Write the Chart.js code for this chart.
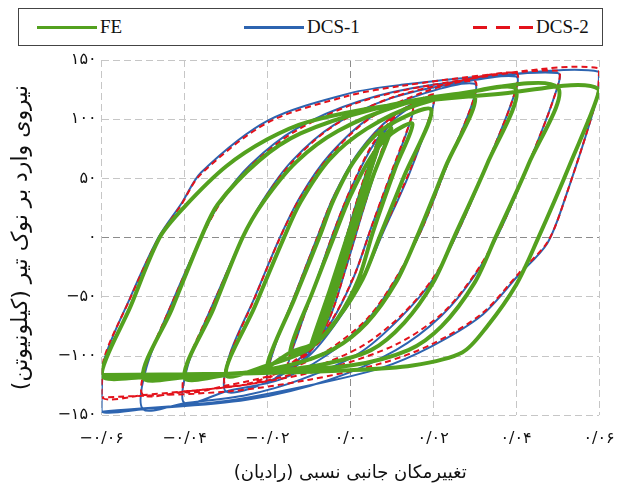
<!DOCTYPE html>
<html lang="fa">
<head>
<meta charset="utf-8">
<title>FE / DCS hysteresis</title>
<script src="https://cdn.jsdelivr.net/npm/chart.js@4.4.1/dist/chart.umd.min.js"></script>
<style>
  body { margin: 0; background: #fff; }
  #wrap { position: relative; width: 621px; height: 490px; }
  #legend {
    position: absolute; left: 18px; top: 8px; width: 583px; height: 36px;
    border: 1.5px solid #444; background: #fff;
    font-family: "Liberation Serif", serif; font-size: 19px; color: #111;
  }
  .item { position: absolute; top: 0; height: 36px; display: flex; align-items: center; }
  .swatch { width: 60px; height: 3px; margin-right: 3px; }
</style>
</head>
<body>
<div id="wrap">
  <canvas id="loopChart" width="621" height="490"></canvas>
  <div id="legend"></div>
</div>
<script>
// x = drift ratio (rad), y = tip force (kN); each loop goes from its negative corner round to its positive corner and back
const feLoops = [
  [[0, 0], [-0.0038, -45], [-0.001, -12], [0.0015, 18], [0.0038, 46], [0.001, 14], [-0.0015, -17], [-0.0038, -45]],
  [[-0.005, -58], [-0.002, -22], [0.0015, 20], [0.005, 60], [0.002, 24], [-0.0015, -20], [-0.005, -58]],
  [[-0.0085, -87], [-0.005, -50], [-0.001, -5], [0.003, 42], [0.0075, 88], [0.004, 50], [0.0, 2], [-0.004, -45], [-0.0085, -87]],
  [[-0.0088, -88], [-0.0045, -48], [0.0, 2], [0.0035, 46], [0.0078, 88], [0.0035, 42], [-0.0005, -5], [-0.005, -52], [-0.0088, -88]],
  [[-0.0095, -91], [-0.005, -45], [-0.001, -2], [0.003, 40], [0.0065, 75], [0.0099, 92], [0.0055, 52], [0.001, 5], [-0.003, -40], [-0.0065, -75], [-0.0095, -91]],
  [[-0.0145, -97], [-0.009, -45], [-0.004, 0], [0.0, 35], [0.005, 68], [0.01, 88], [0.015, 96],
   [0.011, 60], [0.0055, 5], [0.002, -35], [-0.003, -68], [-0.008, -88], [-0.0145, -97]],
  [[-0.02, -108], [-0.0135, -52], [-0.0075, 0], [-0.004, 32], [0.001, 65], [0.008, 92], [0.0195, 108],
   [0.013, 52], [0.007, 0], [0.003, -35], [-0.003, -68], [-0.01, -94], [-0.02, -108]],
  [[-0.03, -116], [-0.023, -58], [-0.016, 0], [-0.012, 30], [-0.005, 66], [0.004, 92], [0.016, 112], [0.03, 120],
   [0.023, 60], [0.016, 0], [0.011, -38], [0.004, -72], [-0.004, -94], [-0.015, -108], [-0.03, -116]],
  [[-0.04, -118], [-0.033, -60], [-0.026, 0], [-0.021, 30], [-0.013, 64], [-0.003, 90], [0.012, 112], [0.026, 121], [0.04, 125],
   [0.033, 62], [0.025, 0], [0.02, -38], [0.013, -72], [0.005, -95], [-0.008, -108], [-0.023, -114], [-0.04, -118]],
  [[-0.05, -118], [-0.043, -60], [-0.036, 0], [-0.032, 28], [-0.022, 65], [-0.012, 88], [0.005, 108], [0.025, 121], [0.05, 127],
   [0.043, 62], [0.035, 0], [0.03, -38], [0.022, -75], [0.014, -95], [0.0, -108], [-0.025, -114], [-0.05, -118]],
  [[-0.06, -116], [-0.053, -58], [-0.046, 0], [-0.04, 26], [-0.03, 60], [-0.02, 83], [-0.01, 98], [0.01, 112], [0.035, 121], [0.06, 125],
   [0.053, 62], [0.045, -3], [0.04, -40], [0.033, -75], [0.027, -97], [0.015, -108], [0.0, -112], [-0.03, -115], [-0.06, -116]]
];

const dcs1Loops = [
  [[0, 0], [-0.005, -55], [-0.001, -8], [0.002, 28], [0.005, 58], [0.0015, 20], [-0.002, -25], [-0.005, -55]],
  [[-0.0085, -85], [-0.004, -40], [0.0, 5], [0.004, 50], [0.0078, 86], [0.0035, 40], [-0.0005, -5], [-0.0045, -48], [-0.0085, -85]],
  [[-0.01, -98], [-0.006, -58], [-0.002, -12], [0.002, 35], [0.006, 75], [0.0105, 100], [0.0075, 72], [0.003, 22], [-0.001, -25], [-0.005, -68], [-0.01, -98]],
  [[-0.015, -110], [-0.0125, -80], [-0.008, -35], [-0.004, 5], [0.0, 40], [0.005, 75], [0.01, 98], [0.015, 110],
   [0.0145, 98], [0.01, 55], [0.005, 8], [0.001, -32], [-0.004, -68], [-0.009, -92], [-0.015, -110]],
  [[-0.02, -122], [-0.0185, -95], [-0.013, -45], [-0.008, 0], [-0.004, 35], [0.002, 72], [0.01, 102], [0.02, 120],
   [0.0195, 105], [0.014, 52], [0.008, 5], [0.003, -35], [-0.003, -70], [-0.01, -100], [-0.02, -122]],
  [[-0.03, -130], [-0.0292, -100], [-0.023, -50], [-0.017, 0], [-0.012, 35], [-0.005, 70], [0.005, 102], [0.018, 122], [0.03, 130],
   [0.0293, 112], [0.023, 58], [0.017, 5], [0.011, -35], [0.004, -70], [-0.006, -100], [-0.017, -120], [-0.03, -130]],
  [[-0.04, -140], [-0.0392, -108], [-0.033, -55], [-0.026, 0], [-0.021, 32], [-0.014, 65], [-0.004, 95], [0.01, 118], [0.025, 130], [0.04, 136],
   [0.0393, 118], [0.033, 62], [0.026, 5], [0.02, -35], [0.012, -68], [0.002, -98], [-0.012, -120], [-0.025, -133], [-0.04, -140]],
  [[-0.05, -145], [-0.0492, -110], [-0.043, -55], [-0.036, 0], [-0.031, 32], [-0.024, 62], [-0.013, 92], [0.002, 115], [0.02, 129], [0.05, 139],
   [0.0493, 120], [0.043, 62], [0.036, 5], [0.03, -32], [0.022, -66], [0.011, -95], [-0.005, -120], [-0.025, -137], [-0.05, -145]],
  [[-0.06, -147], [-0.0595, -105], [-0.053, -50], [-0.0463, 0], [-0.0407, 29], [-0.036, 55], [-0.0198, 99], [0.0, 122], [0.0123, 129], [0.035, 137], [0.06, 140],
   [0.0595, 118], [0.052, 35], [0.0475, -5], [0.0405, -32], [0.0316, -66], [0.0195, -92], [0.0075, -110], [-0.01, -125], [-0.03, -138], [-0.06, -147]]
];

const dcs2Loops = [
  [[0, 0], [-0.005, -54], [-0.0012, -10], [0.002, 26], [0.005, 57], [0.0018, 22], [-0.0018, -22], [-0.005, -54]],
  [[-0.0082, -84], [-0.0042, -42], [0.0002, 6], [0.0042, 52], [0.008, 88], [0.0038, 44], [-0.0002, -2], [-0.0042, -46], [-0.0082, -84]],
  [[-0.0098, -96], [-0.0058, -56], [-0.0018, -10], [0.0022, 38], [0.0062, 78], [0.0105, 102], [0.0078, 76], [0.0032, 25], [-0.0008, -22], [-0.0048, -66], [-0.0098, -96]],
  [[-0.015, -108], [-0.0128, -82], [-0.0082, -38], [-0.0042, 3], [0.0002, 42], [0.0052, 78], [0.0102, 100], [0.015, 112],
   [0.0146, 100], [0.0102, 58], [0.0052, 10], [0.0012, -30], [-0.0038, -66], [-0.0088, -90], [-0.015, -108]],
  [[-0.02, -118], [-0.0187, -96], [-0.0132, -47], [-0.0082, -2], [-0.0042, 33], [0.0018, 70], [0.0098, 101], [0.02, 121],
   [0.0196, 107], [0.0142, 55], [0.0082, 8], [0.0032, -32], [-0.0028, -68], [-0.0098, -96], [-0.02, -118]],
  [[-0.03, -125], [-0.0293, -102], [-0.0232, -52], [-0.0172, -2], [-0.0122, 33], [-0.0052, 68], [0.0048, 101], [0.0178, 123], [0.03, 132],
   [0.0295, 114], [0.0232, 60], [0.0172, 7], [0.0112, -33], [0.0042, -68], [-0.0058, -96], [-0.0168, -114], [-0.03, -125]],
  [[-0.04, -130], [-0.0393, -106], [-0.0332, -57], [-0.0262, -2], [-0.0212, 30], [-0.0142, 63], [-0.0042, 94], [0.0098, 118], [0.0248, 131], [0.04, 139],
   [0.0395, 120], [0.0332, 64], [0.0262, 7], [0.0202, -33], [0.0122, -66], [0.0022, -93], [-0.0118, -113], [-0.0248, -124], [-0.04, -130]],
  [[-0.05, -133], [-0.0493, -108], [-0.0432, -57], [-0.0362, -2], [-0.0312, 30], [-0.0242, 60], [-0.0132, 90], [0.0018, 114], [0.0198, 129], [0.05, 141],
   [0.0495, 122], [0.0432, 64], [0.0362, 7], [0.0302, -30], [0.0222, -64], [0.0112, -90], [-0.0048, -110], [-0.0248, -124], [-0.05, -133]],
  [[-0.06, -135], [-0.0595, -103], [-0.0532, -52], [-0.0465, -2], [-0.0409, 27], [-0.0362, 53], [-0.02, 97], [-0.0002, 120], [0.0121, 128], [0.0348, 138], [0.06, 143],
   [0.0596, 120], [0.0522, 37], [0.0477, -3], [0.0407, -30], [0.0318, -64], [0.0197, -90], [0.0077, -106], [-0.0098, -120], [-0.0298, -130], [-0.06, -135]]
];

const seriesNames = ['FE', 'DCS-1', 'DCS-2'];
const xTicks = [-0.06, -0.04, -0.02, 0, 0.02, 0.04, 0.06];
const yTicks = [-150, -100, -50, 0, 50, 100, 150];
const xTitle = 'تغییرمکان جانبی نسبی (رادیان)';
const yTitle = 'نیروی وارد بر نوک تیر (کیلونیوتن)';

const faDigits = '۰۱۲۳۴۵۶۷۸۹';
function toFa(str) {
  return String(str).replace(/[0-9]/g, d => faDigits[d]).replace('-', '−');
}

function toPoints(loops) {
  const pts = [];
  for (let loop of loops) {
    for (let p of loop) pts.push({ x: p[0], y: p[1] });
  }
  return pts;
}

const gridColor = c => (c.tick && c.tick.value === 0) ? '#8c8c8c' : '#c6c6c6';

const ctx = document.getElementById('loopChart').getContext('2d');
const loopChart = new Chart(ctx, {
  type: 'scatter',
  data: {
    datasets: [
      {
        label: seriesNames[0],
        data: toPoints(feLoops),
        borderColor: '#53a11f',
        borderWidth: 4,
        order: 0
      },
      {
        label: seriesNames[1],
        data: toPoints(dcs1Loops),
        borderColor: '#2d64b0',
        borderWidth: 2,
        order: 2
      },
      {
        label: seriesNames[2],
        data: toPoints(dcs2Loops),
        borderColor: '#e3121b',
        borderWidth: 2,
        borderDash: [6, 4],
        order: 1
      }
    ]
  },
  options: {
    responsive: false,
    animation: false,
    showLine: true,
    elements: {
      point: { radius: 0, hoverRadius: 0 },
      line: { tension: 0.3, fill: false }
    },
    layout: { padding: { top: 60, left: 8, right: 0, bottom: 4 } },
    plugins: {
      legend: { display: false },
      tooltip: { enabled: false }
    },
    scales: {
      x: {
        type: 'linear',
        min: -0.06,
        max: 0.06,
        afterBuildTicks: axis => { axis.ticks = xTicks.map(v => ({ value: v })); },
        // tick padding also widens the right margin, keep the plot edge near the last label
        afterFit: axis => { axis.paddingRight = 22; },
        ticks: {
          padding: 14,
          color: '#111',
          font: { family: 'DejaVu Sans', size: 16 },
          callback: v => toFa((Math.abs(v) < 1e-9 ? 0 : v).toFixed(2).replace('.', '/'))
        },
        grid: { color: gridColor, drawTicks: false },
        border: { display: false, dash: [7, 4] },
        title: {
          display: true,
          text: xTitle + '\u200F',
          color: '#111',
          font: { family: 'DejaVu Sans', size: 18 },
          padding: { top: 0, bottom: 2 }
        }
      },
      y: {
        min: -150,
        max: 150,
        afterBuildTicks: axis => { axis.ticks = yTicks.map(v => ({ value: v })); },
        ticks: {
          padding: 5,
          color: '#111',
          font: { family: 'DejaVu Sans', size: 16 },
          callback: v => toFa(v)
        },
        grid: { color: gridColor, drawTicks: false },
        border: { display: false, dash: [7, 4] },
        title: {
          display: true,
          text: yTitle + '\u200F',
          color: '#111',
          font: { family: 'DejaVu Sans', size: 22 },
          padding: { top: 0, bottom: 18 }
        }
      }
    }
  }
});

// legend drawn as html above the plot, built from the datasets
const legendLeft = [18, 225, 454];
const legendBox = document.getElementById('legend');
loopChart.data.datasets.forEach((ds, i) => {
  const item = document.createElement('div');
  item.className = 'item';
  item.style.left = legendLeft[i] + 'px';
  const sw = document.createElement('span');
  sw.className = 'swatch';
  if (ds.borderDash) {
    sw.style.background = `repeating-linear-gradient(to right, ${ds.borderColor} 0 14px, transparent 14px 23px)`;
  } else {
    sw.style.background = ds.borderColor;
  }
  const txt = document.createElement('span');
  txt.textContent = ds.label;
  item.appendChild(sw);
  item.appendChild(txt);
  legendBox.appendChild(item);
});
</script>
</body>
</html>
